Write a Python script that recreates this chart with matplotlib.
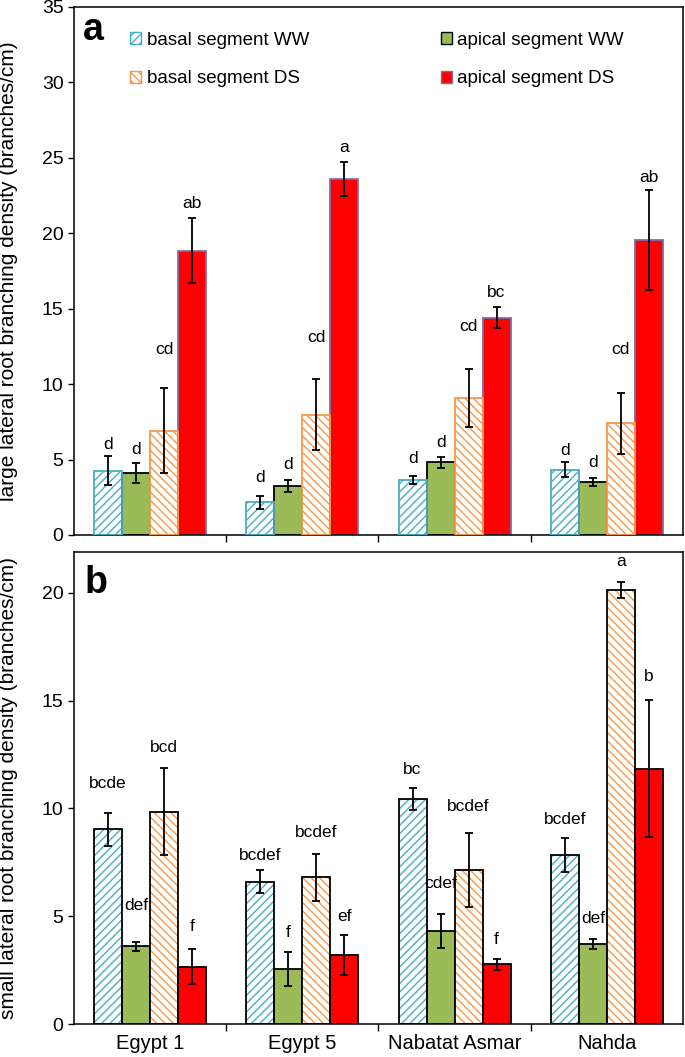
import numpy as np
import matplotlib.pyplot as plt
from matplotlib.patches import Patch

plt.rcParams['font.family'] = ['Liberation Sans', 'DejaVu Sans']
plt.rcParams['hatch.linewidth'] = 1.0

cultivars = ['Egypt 1', 'Egypt 5', 'Nabatat Asmar', 'Nahda']
series = ['basal segment WW', 'apical segment WW', 'basal segment DS', 'apical segment DS']

# panel a: large lateral roots
large_basal_ww = [4.27, 2.17, 3.65, 4.31]
large_basal_ww_err = [0.95, 0.44, 0.25, 0.50]
large_apical_ww = [4.09, 3.23, 4.82, 3.50]
large_apical_ww_err = [0.67, 0.39, 0.38, 0.26]
large_basal_ds = [6.90, 7.98, 9.07, 7.39]
large_basal_ds_err = [2.82, 2.36, 1.93, 2.02]
large_apical_ds = [18.85, 23.60, 14.40, 19.57]
large_apical_ds_err = [2.15, 1.15, 0.70, 3.30]

large_letters = [['d', 'd', 'd', 'd'],
                 ['d', 'd', 'd', 'd'],
                 ['cd', 'cd', 'cd', 'cd'],
                 ['ab', 'a', 'bc', 'ab']]
large_letter_y = [[5.97, 3.83, 5.04, 5.60],
                  [5.69, 4.65, 6.15, 4.80],
                  [12.3, 13.1, 13.8, 12.3],
                  [22.0, 25.7, 16.1, 23.7]]

# panel b: small lateral roots
small_basal_ww = [9.03, 6.60, 10.44, 7.84]
small_basal_ww_err = [0.77, 0.53, 0.50, 0.80]
small_apical_ww = [3.60, 2.55, 4.32, 3.70]
small_apical_ww_err = [0.22, 0.78, 0.79, 0.24]
small_basal_ds = [9.85, 6.80, 7.15, 20.15]
small_basal_ds_err = [2.03, 1.08, 1.70, 0.37]
small_apical_ds = [2.66, 3.19, 2.77, 11.85]
small_apical_ds_err = [0.82, 0.93, 0.26, 3.17]

small_letters = [['bcde', 'bcdef', 'bc', 'bcdef'],
                 ['def', 'f', 'cdef', 'def'],
                 ['bcd', 'bcdef', 'bcdef', 'a'],
                 ['f', 'ef', 'f', 'b']]
small_letter_y = [[11.14, 7.84, 11.79, 9.5],
                  [5.52, 4.26, 6.5, 4.9],
                  [12.85, 8.88, 10.1, 21.45],
                  [4.51, 4.98, 3.9, 16.12]]

# face, hatch, hatch colour, edge in panel a
styles = [('white', '////', '#4bacc6', '#4bacc6'),
          ('#9bbb59', None, None, 'black'),
          ('white', '\\\\\\\\', '#f79646', '#f79646'),
          ('#ff0000', None, None, '#7e6ea6')]

width = 0.184
x = np.arange(len(cultivars))


def draw_panel(ax, means, errs, letters, letter_y, panel_a):
    for i in range(4):
        face, hatch, hcol, edge = styles[i]
        if not panel_a:
            edge = 'black'
        pos = x + (i - 1.5) * width
        if hatch:
            ax.bar(pos, means[i], width, color=face, hatch=hatch,
                   edgecolor=hcol, linewidth=0, zorder=2)
            ax.bar(pos, means[i], width, fill=False, edgecolor=edge,
                   linewidth=1.3, zorder=3)
        else:
            ax.bar(pos, means[i], width, color=face, edgecolor=edge,
                   linewidth=1.3, zorder=2)
        ax.errorbar(pos, means[i], yerr=errs[i], fmt='none', ecolor='black',
                    elinewidth=1.3, capsize=3, capthick=1.3, zorder=4)
        for j in range(4):
            ax.text(pos[j], letter_y[i][j], letters[i][j], ha='center',
                    va='center', fontsize=12.5)
    ax.set_xlim(-0.5, 3.5)
    ax.set_xticks(x)
    ax.set_xticks(np.arange(0.5, 3.5, 1), minor=True)
    ax.tick_params(axis='x', which='major', length=0, labelsize=14.5, pad=7)
    ax.tick_params(axis='x', which='minor', length=5, width=1, direction='out')
    ax.tick_params(axis='y', length=4, width=1, direction='out', labelsize=14)
    for s in ax.spines.values():
        s.set_linewidth(1.1)


fig = plt.figure(figsize=(6.85, 10.57), dpi=100)
ax1 = fig.add_axes([0.108, 0.4939, 0.889, 0.4995])
ax2 = fig.add_axes([0.108, 0.0312, 0.889, 0.4466])

draw_panel(ax1,
           [large_basal_ww, large_apical_ww, large_basal_ds, large_apical_ds],
           [large_basal_ww_err, large_apical_ww_err, large_basal_ds_err, large_apical_ds_err],
           large_letters, large_letter_y, True)
ax1.set_ylim(0, 35)
ax1.set_yticks(np.arange(0, 36, 5))
ax1.set_xticklabels([])
ax1.set_ylabel('large lateral root branching density (branches/cm)', fontsize=15)
ax1.yaxis.set_label_coords(-0.092, 0.5)
ax1.text(0.0148, 0.9375, 'a', transform=ax1.transAxes, fontsize=27,
         fontweight='bold', va='baseline', ha='left')

handles = [Patch(facecolor='white', hatch='////', edgecolor='#4bacc6'),
           Patch(facecolor='white', hatch='\\\\\\\\', edgecolor='#f79646'),
           Patch(facecolor='#9bbb59', edgecolor='black'),
           Patch(facecolor='#ff0000', edgecolor='#7e6ea6')]
labels = [series[0], series[2], series[1], series[3]]
ax1.legend(handles, labels, loc='upper left', bbox_to_anchor=(0.092, 0.953),
           ncol=2, frameon=False, fontsize=13.5, handlelength=0.6,
           handleheight=0.6, handletextpad=0.3, labelspacing=1.15,
           columnspacing=7.0, borderpad=0, borderaxespad=0)

draw_panel(ax2,
           [small_basal_ww, small_apical_ww, small_basal_ds, small_apical_ds],
           [small_basal_ww_err, small_apical_ww_err, small_basal_ds_err, small_apical_ds_err],
           small_letters, small_letter_y, False)
ax2.set_ylim(0, 21.9)
ax2.set_yticks(np.arange(0, 21, 5))
ax2.set_xticklabels(cultivars)
ax2.set_ylabel('small lateral root branching density (branches/cm)', fontsize=15)
ax2.yaxis.set_label_coords(-0.092, 0.5)
ax2.text(0.018, 0.914, 'b', transform=ax2.transAxes, fontsize=27,
         fontweight='bold', va='baseline', ha='left')

fig.savefig('out.png', dpi=100)
